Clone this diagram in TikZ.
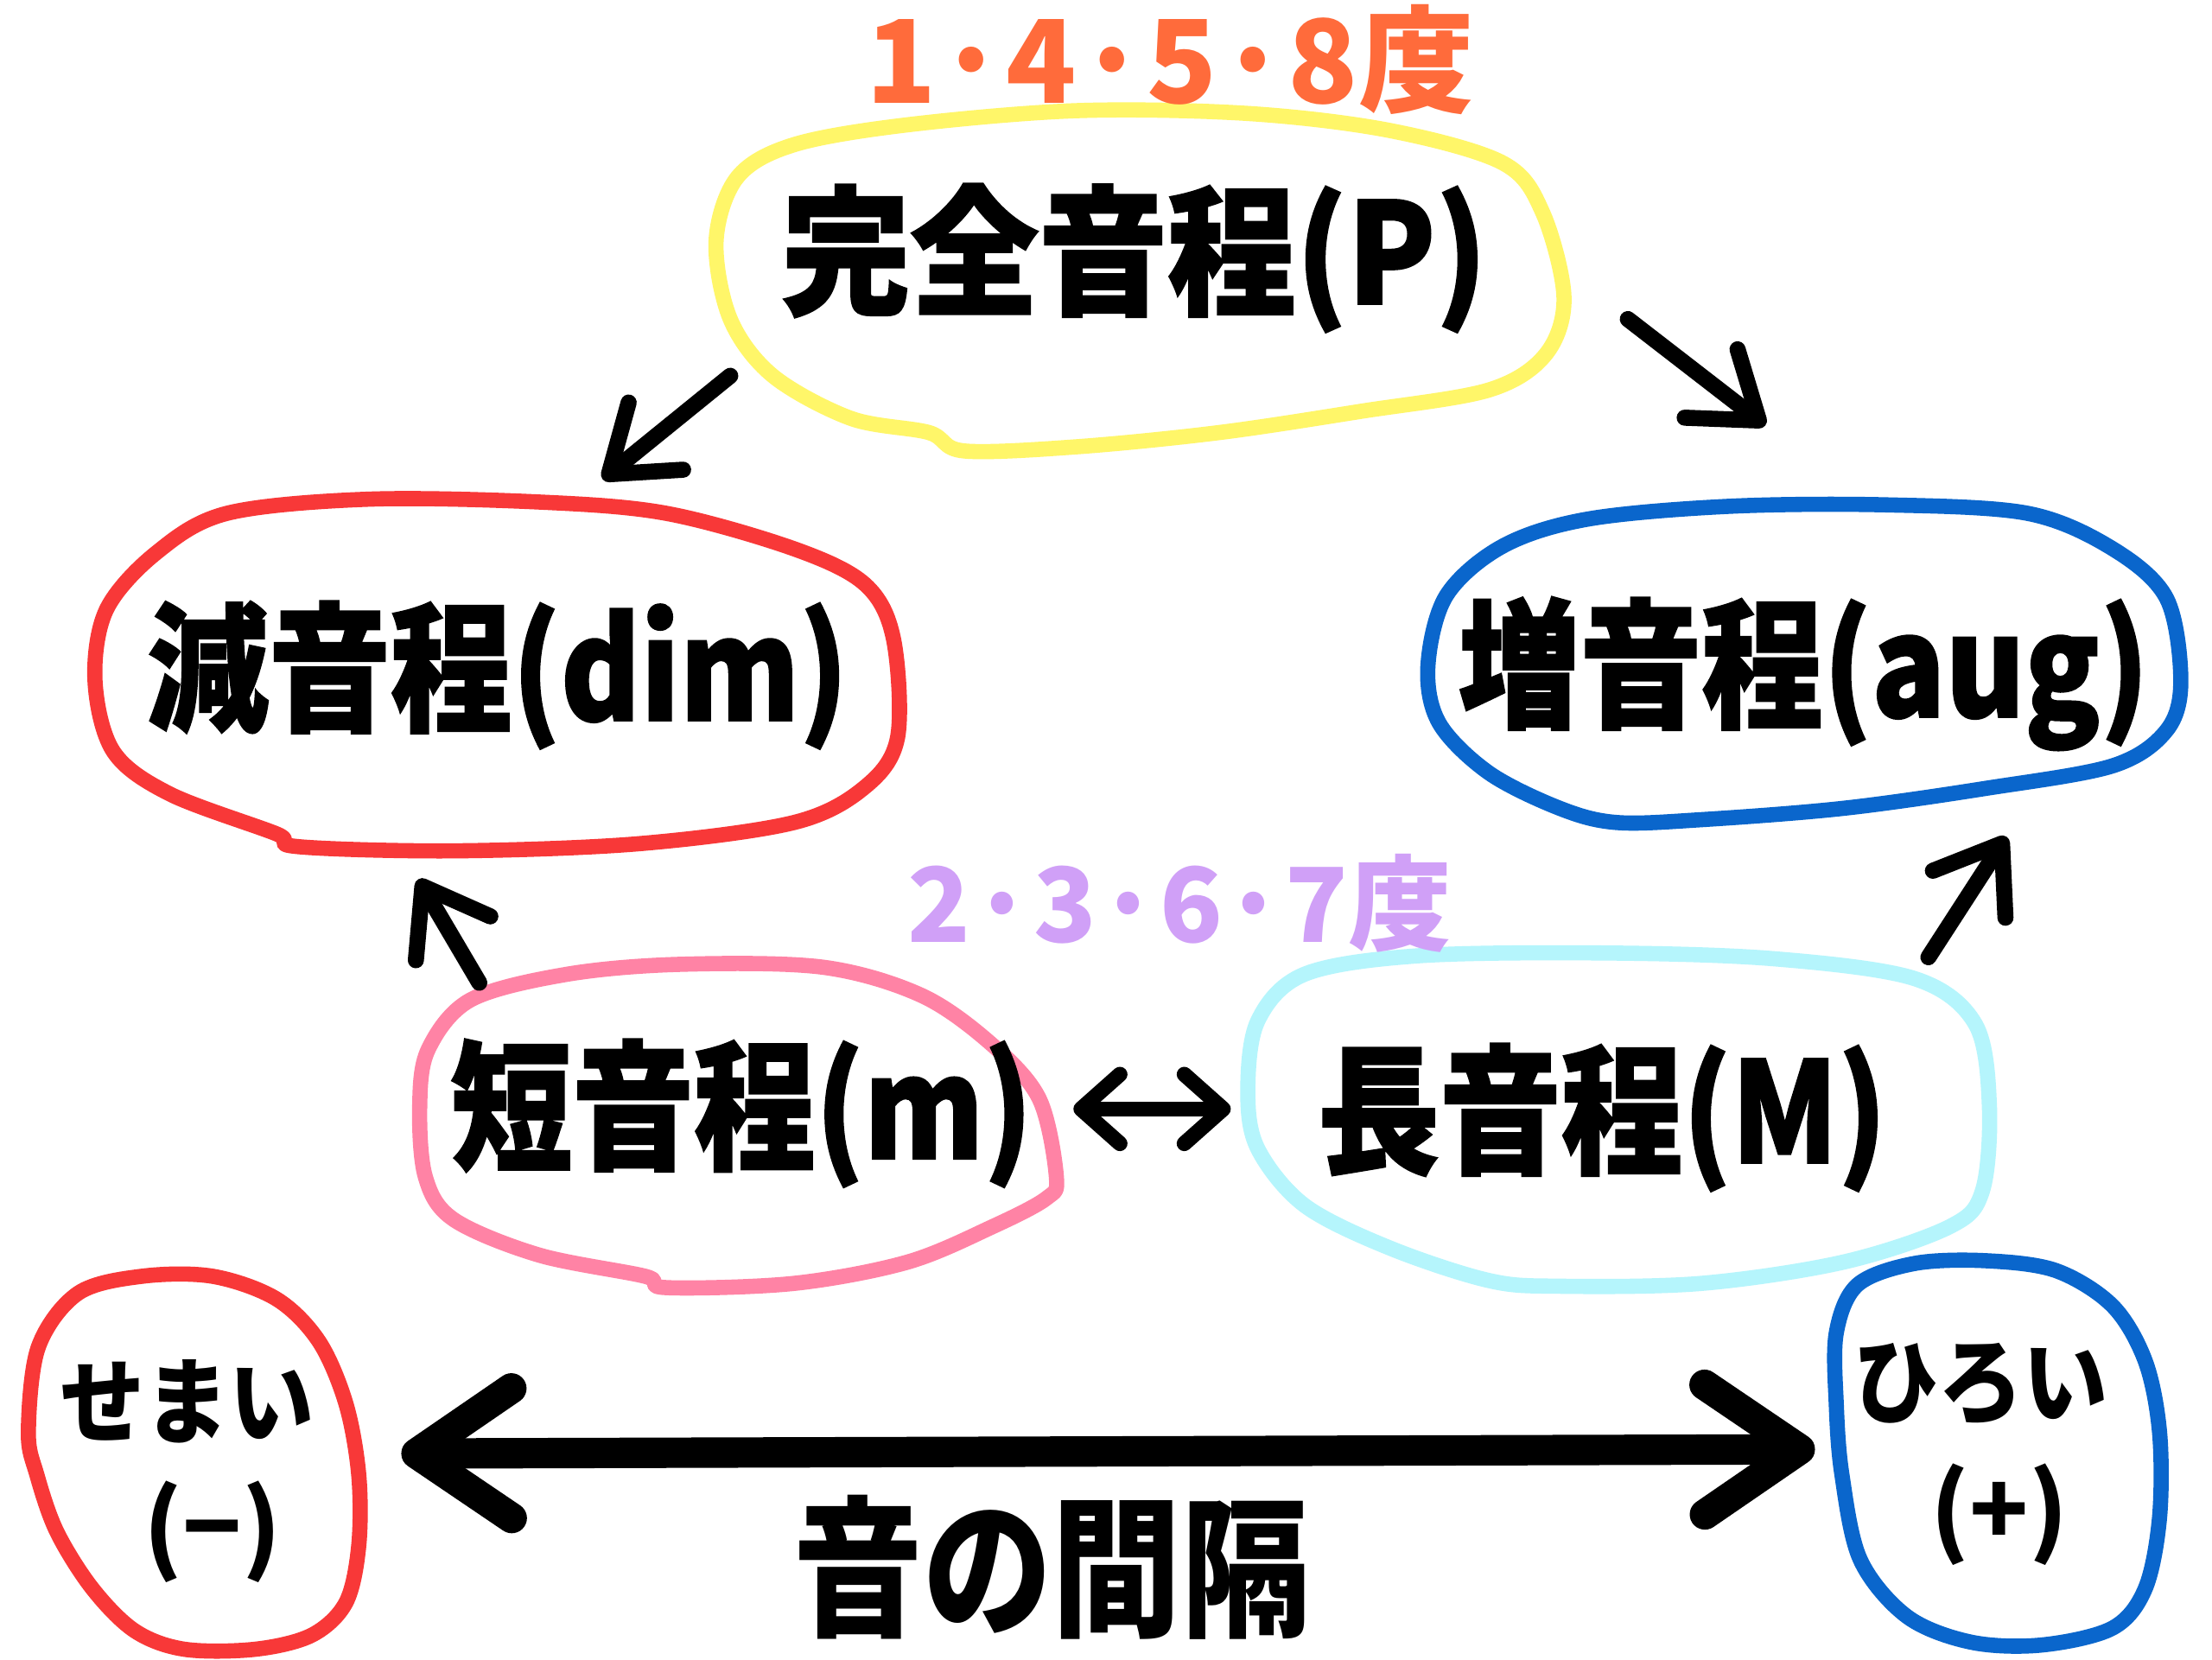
\documentclass[tikz,border=0pt]{standalone}
\usepackage{fontspec}
\usetikzlibrary{arrows.meta}
\newfontfamily\jp{Noto Sans CJK JP}
\newfontfamily\jpb{Noto Sans CJK JP}[BoldFeatures={FakeBold=1.4}]
\definecolor{yellowc}{HTML}{FFF669}
\definecolor{orangec}{HTML}{FF6B3B}
\definecolor{redc}{HTML}{F83838}
\definecolor{bluec}{HTML}{0A66CC}
\definecolor{pinkc}{HTML}{FF83A5}
\definecolor{cyanc}{HTML}{B5F5FC}
\definecolor{purplec}{HTML}{D0A0F7}
\newcommand\narrowtxt[2][0.87]{\scalebox{#1}[1]{#2}}
\tikzset{
  term/.style={font=\jpb\bfseries\fontsize{46}{50}\selectfont, inner sep=0pt},
  hand/.style={font=\jp\bfseries\fontsize{38}{42}\selectfont, inner sep=0pt},
  outline/.style={line width=5pt, line join=round},
  conn/.style={line width=5.3pt, line cap=round, -{Straight Barb[length=7mm,width=10mm,round]}},
  biconn/.style={line width=5pt, line cap=round, {Straight Barb[length=4.5mm,width=8mm,round]}-{Straight Barb[length=4.5mm,width=8mm,round]}},
  bigconn/.style={line width=10pt, {Straight Barb[length=11mm,width=15mm,round]}-{Straight Barb[length=11mm,width=15mm,round]}}
}
\begin{document}
\begin{tikzpicture}[x=0.016410cm, y=-0.016410cm]
\useasboundingbox[fill=white] (0,0) rectangle (1560,1170);

% outlines
\draw[outline, yellowc] plot[smooth cycle, tension=0.55] coordinates {(505,170) (520,125) (560,102) (640,88) (760,78) (880,80) (980,92) (1060,115) (1088,150) (1103,210) (1090,250) (1050,275) (960,290) (860,305) (760,315) (680,318) (655,305) (600,295) (545,265) (515,225)};
\draw[outline, redc] plot[smooth cycle, tension=0.55] coordinates {(67,480) (75,430) (110,390) (160,362) (260,352) (380,354) (470,362) (560,387) (610,412) (630,450) (633,520) (610,555) (560,580) (450,595) (320,600) (210,597) (195,588) (120,560) (80,530)};
\draw[outline, bluec] plot[smooth cycle, tension=0.55] coordinates {(1007,470) (1020,420) (1060,385) (1120,366) (1220,357) (1330,356) (1430,362) (1490,387) (1528,422) (1538,480) (1528,515) (1490,540) (1400,556) (1300,570) (1200,578) (1140,580) (1100,570) (1050,545) (1015,510)};
\draw[outline, pinkc] plot[smooth cycle, tension=0.55] coordinates {(296,780) (302,740) (332,705) (400,687) (480,680) (580,682) (650,702) (700,737) (733,775) (745,830) (738,845) (700,865) (640,890) (560,905) (470,908) (455,900) (380,885) (320,860) (300,830)};
\draw[outline, cyanc] plot[smooth cycle, tension=0.55] coordinates {(880,770) (887,720) (920,687) (1000,674) (1130,672) (1250,676) (1350,690) (1393,722) (1403,780) (1398,840) (1375,865) (1300,890) (1200,905) (1100,907) (1050,903) (980,880) (920,850) (887,810)};
\draw[outline, redc] plot[smooth cycle, tension=0.55] coordinates {(20,1010) (27,950) (55,912) (100,900) (150,900) (195,916) (225,946) (244,990) (253,1040) (253,1090) (244,1130) (220,1153) (180,1163) (130,1163) (95,1150) (65,1120) (40,1080) (26,1040)};
\draw[outline, bluec] plot[smooth cycle, tension=0.55] coordinates {(1295,940) (1310,906) (1350,891) (1400,889) (1450,896) (1490,921) (1513,960) (1523,1010) (1523,1070) (1513,1120) (1490,1148) (1440,1160) (1390,1158) (1345,1140) (1312,1100) (1299,1040) (1295,990)};

% terms
\node[term] (P) at (800,182) {\narrowtxt[0.92]{完全音程(P)}};
\node[term] (dim) at (351,476) {\narrowtxt{減音程(dim)}};
\node[term] (aug) at (1272,475) {\narrowtxt{増音程(aug)}};
\node[term] (m) at (523,785) {\narrowtxt{短音程(m)}};
\node[term] (M) at (1130,788) {\narrowtxt{長音程(M)}};

% handwritten labels
\node[hand, text=orangec] (deg1) at (825,42) {1·4·5·8度};
\node[hand, text=purplec, font=\jp\bfseries\fontsize{34}{38}\selectfont] (deg2) at (832,637) {2·3·6·7度};
\node[hand, font=\jp\bfseries\fontsize{31}{34}\selectfont] (narrow) at (132,988) {\narrowtxt[0.9]{せまい}};
\node[hand, font=\jp\bfseries\fontsize{32}{36}\selectfont] (minus) at (150,1080) {(−)};
\node[hand, font=\jp\bfseries\fontsize{31}{34}\selectfont] (wide) at (1397,976) {\narrowtxt[0.9]{ひろい}};
\node[hand, font=\jp\bfseries\fontsize{32}{36}\selectfont] (plus) at (1410,1068) {(+)};
\node[hand, font=\jp\bfseries\fontsize{50}{54}\selectfont] (gap) at (742,1105) {\narrowtxt[0.85]{音の間隔}};

% connector end points
\coordinate (p1) at (515,265); \coordinate (d1) at (425,338);
\coordinate (p2) at (1148,225); \coordinate (a1) at (1245,300);
\coordinate (m1) at (338,693); \coordinate (d2) at (295,620);
\coordinate (M1) at (1360,675); \coordinate (a2) at (1415,590);
\coordinate (mr) at (757,782); \coordinate (Ml) at (868,782);
\coordinate (bl) at (283,1025); \coordinate (br) at (1280,1022);

\draw[conn] (p1) -- (d1);
\draw[conn] (p2) -- (a1);
\draw[conn] (m1) -- (d2);
\draw[conn] (M1) -- (a2);
\draw[biconn] (mr) -- (Ml);
\draw[bigconn] (bl) -- (br);
\end{tikzpicture}
\end{document}
